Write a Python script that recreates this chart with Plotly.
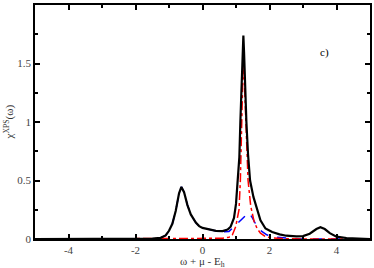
import plotly.graph_objects as go

# Black: total spectrum
x_total = [-5.0, -3.0, -2.0, -1.5, -1.25, -1.1, -1.0, -0.9, -0.8, -0.7, -0.63, -0.55, -0.45, -0.35,
           -0.2, -0.1, 0.0, 0.2, 0.4, 0.6, 0.75, 0.84, 0.94, 1.0, 1.06, 1.1, 1.13, 1.17, 1.2, 1.22,
           1.24, 1.27, 1.31, 1.36, 1.42, 1.52, 1.63, 1.73, 1.88, 2.08, 2.3, 2.5, 2.8, 3.0,
           3.2, 3.4, 3.52, 3.65, 3.8, 4.0, 4.3, 4.6, 5.0]
y_total = [0.0, 0.0, 0.001, 0.003, 0.01, 0.03, 0.07, 0.13, 0.24, 0.39, 0.445, 0.40, 0.29, 0.21,
           0.14, 0.11, 0.095, 0.08, 0.07, 0.068, 0.08, 0.105, 0.18, 0.3, 0.5, 0.7, 1.0, 1.35, 1.6, 1.74,
           1.6, 1.3, 1.0, 0.72, 0.5, 0.36, 0.25, 0.16, 0.09, 0.06, 0.04, 0.028, 0.022, 0.025,
           0.045, 0.085, 0.10, 0.085, 0.05, 0.02, 0.008, 0.003, 0.0]

# Red dash-dot component
x_red = [-5.0, 0.43, 0.6, 0.79, 0.89, 0.99, 1.09, 1.13, 1.17, 1.2, 1.22, 1.25, 1.3, 1.36, 1.44,
         1.54, 1.63, 1.73, 1.88, 2.1, 2.5, 3.0, 5.0]
y_red = [0.0, 0.0, 0.006, 0.015, 0.034, 0.105, 0.25, 0.5, 0.95, 1.4, 1.58, 1.35, 0.9, 0.5, 0.28,
         0.15, 0.09, 0.05, 0.02, 0.008, 0.003, 0.0, 0.0]

# Blue dashed component (hidden under the black curve left of x = 0.6)
x_blue = [-5.0, -3.0, -2.0, -1.5, -1.25, -1.1, -1.0, -0.9, -0.8, -0.7, -0.63, -0.55, -0.45, -0.35,
          -0.2, -0.1, 0.0, 0.2, 0.4, 0.64, 0.79, 0.94, 1.09,
          1.25, 1.39, 1.49, 1.63, 1.78, 1.93, 2.2, 2.6, 3.0, 5.0]
y_blue = [0.0, 0.0, 0.001, 0.003, 0.01, 0.03, 0.07, 0.13, 0.24, 0.39, 0.445, 0.40, 0.29, 0.21,
          0.14, 0.11, 0.095, 0.08, 0.069, 0.062, 0.065, 0.105, 0.15,
          0.19, 0.225, 0.18, 0.105, 0.062, 0.034, 0.015, 0.005, 0.0, 0.0]

x_ticks = [-4, -2, 0, 2, 4]
y_ticks = [0, 0.5, 1, 1.5, 2]
y_tick_labels = ["0", "0.5", "1", "1.5", "2"]

fig = go.Figure()
fig.add_trace(go.Scatter(x=x_blue, y=y_blue, mode="lines",
                         line=dict(color="#0000ff", width=1.5, dash="dash")))
fig.add_trace(go.Scatter(x=x_red, y=y_red, mode="lines",
                         line=dict(color="#ff0000", width=1.5, dash="dashdot")))
fig.add_trace(go.Scatter(x=x_total, y=y_total, mode="lines",
                         line=dict(color="#000000", width=2.2)))

axis_common = dict(showgrid=False, zeroline=False, showline=True, linecolor="black", linewidth=1.5,
                   ticks="inside", ticklen=5, tickwidth=1.5, tickcolor="black", mirror="allticks",
                   tickfont=dict(family="Liberation Serif", size=11, color="#444444"))

fig.update_layout(
    width=374, height=268,
    margin=dict(l=35, r=2, t=5, b=29, pad=0),
    paper_bgcolor="white", plot_bgcolor="white",
    showlegend=False,
    font=dict(family="Liberation Serif", color="#333333"),
    xaxis=dict(range=[-5, 5], tickvals=x_ticks, ticktext=[str(v) for v in x_ticks],
               minor=dict(dtick=1, ticklen=3, tickwidth=1.5, tickcolor="black", ticks="inside"),
               **axis_common),
    yaxis=dict(range=[0, 2], tickvals=y_ticks, ticktext=y_tick_labels,
               minor=dict(dtick=0.25, ticklen=3, tickwidth=1.5, tickcolor="black", ticks="inside"),
               **axis_common),
    annotations=[
        dict(x=3.64, y=1.59, xref="x", yref="y", text="c)", showarrow=False,
             font=dict(family="Liberation Serif", size=11, color="black")),
        dict(x=0.5, y=0, xref="paper", yref="paper", yanchor="top", yshift=-14,
             text="ω + μ - E<sub>h</sub>", showarrow=False,
             font=dict(family="Liberation Serif", size=11, color="#333333")),
        dict(x=0, y=0.5, xref="paper", yref="paper", xanchor="right", xshift=-17,
             text="χ<sup>XPS</sup>(ω)", textangle=-90, showarrow=False,
             font=dict(family="Liberation Serif", size=11, color="#333333")),
    ],
)

fig.write_html("out.html", config={"displayModeBar": False},
               post_script="document.body.style.margin='0';document.body.style.overflow='hidden';")
